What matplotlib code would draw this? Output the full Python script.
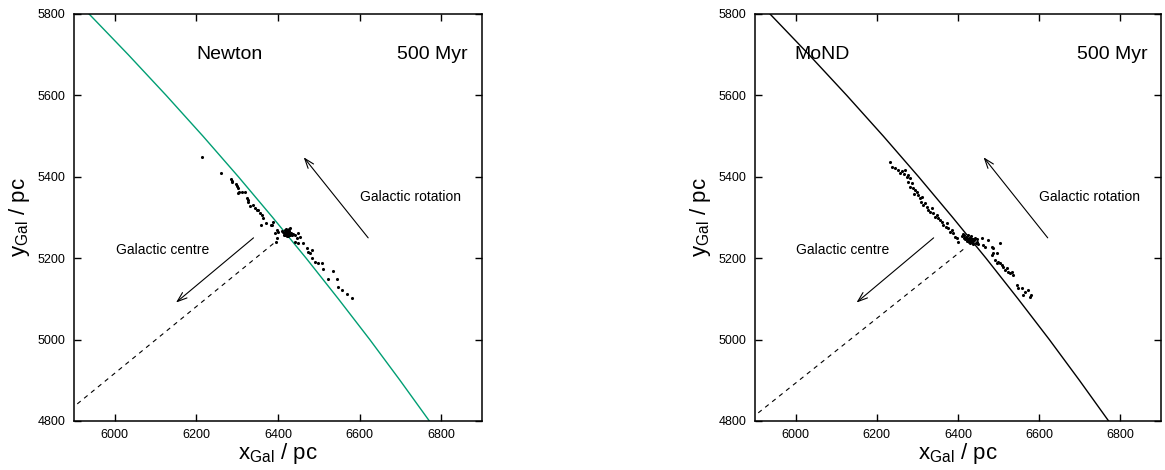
import numpy as np
import matplotlib.pyplot as plt

plt.rcParams['font.family'] = ['Liberation Sans', 'DejaVu Sans']

# orbit of the cluster centre
orbit_y = [5800, 5700, 5600, 5500, 5400, 5300, 5200, 5100, 5000, 4900, 4800]
orbit_x = [5937, 6033, 6126, 6216, 6303, 6387, 6469, 6548, 6625, 6699, 6771]

# Newton, 500 Myr
newton_x = [6214, 6260, 6285, 6288, 6287, 6296, 6300, 6303, 6305, 6301, 6311, 6319,
            6323, 6327, 6326, 6331, 6339, 6344, 6348, 6352, 6356, 6360, 6364,
            6358, 6371, 6382, 6388, 6385, 6397, 6401, 6393, 6397, 6395,
            6410, 6414, 6416, 6418, 6420, 6422, 6424, 6425, 6426, 6428, 6430, 6432,
            6434, 6415, 6419, 6427, 6412, 6421, 6436, 6423, 6429, 6425,
            6442, 6450, 6454, 6446, 6442, 6450, 6462, 6470, 6474, 6483, 6478,
            6483, 6491, 6499, 6507, 6511, 6536, 6523, 6544, 6547, 6557, 6569, 6581]
newton_y = [5448, 5409, 5394, 5388, 5390, 5382, 5377, 5372, 5363, 5359, 5363, 5363,
            5347, 5343, 5339, 5328, 5331, 5323, 5318, 5318, 5310, 5306, 5298,
            5282, 5286, 5282, 5290, 5282, 5269, 5265, 5261, 5249, 5241,
            5268, 5262, 5270, 5258, 5265, 5260, 5268, 5255, 5262, 5266, 5258, 5262,
            5256, 5256, 5272, 5271, 5264, 5254, 5260, 5263, 5274, 5269,
            5257, 5261, 5253, 5249, 5241, 5237, 5237, 5224, 5216, 5220, 5212,
            5200, 5191, 5187, 5187, 5173, 5169, 5148, 5150, 5129, 5122, 5112, 5102]

# MoND, 500 Myr
mond_x = [6232, 6238, 6245, 6251, 6257, 6261, 6269, 6268, 6274, 6278, 6282,
          6278, 6282, 6286, 6290, 6294, 6298, 6292,
          6302, 6306, 6311, 6309, 6315, 6319, 6323,
          6327, 6331, 6335, 6339, 6343, 6348, 6351, 6356,
          6360, 6364, 6372, 6370, 6376, 6380, 6384, 6388, 6393, 6397, 6401,
          6410, 6414, 6416, 6418, 6420, 6422, 6424, 6425, 6426, 6428, 6430, 6430,
          6432, 6433, 6435, 6436, 6438, 6440, 6442, 6444, 6446, 6448, 6427, 6431,
          6429, 6434, 6421, 6437, 6412, 6450,
          6458, 6462, 6466, 6475, 6483, 6487, 6503, 6495, 6483, 6487,
          6491, 6495, 6499, 6503, 6508, 6512, 6516, 6520, 6524, 6528, 6532, 6536,
          6545, 6549, 6557, 6565, 6573, 6561, 6577, 6581]
mond_y = [5436, 5425, 5421, 5417, 5409, 5414, 5417, 5406, 5400, 5404, 5396,
          5388, 5376, 5384, 5372, 5368, 5363, 5357,
          5355, 5347, 5351, 5339, 5331, 5335, 5327,
          5318, 5314, 5323, 5310, 5302, 5306, 5298, 5294,
          5290, 5282, 5286, 5277, 5273, 5265, 5269, 5261, 5253, 5249, 5241,
          5255, 5250, 5258, 5246, 5252, 5242, 5248, 5256, 5240, 5246, 5250, 5238,
          5244, 5254, 5240, 5248, 5236, 5244, 5250, 5238, 5246, 5240, 5244, 5242,
          5248, 5246, 5247, 5243, 5260, 5236,
          5249, 5232, 5228, 5245, 5228, 5224, 5237, 5212, 5208, 5212,
          5196, 5187, 5191, 5187, 5183, 5179, 5171, 5175, 5167, 5163, 5167, 5159,
          5134, 5126, 5126, 5118, 5122, 5110, 5105, 5110]

# direction towards the Galactic centre (dashed)
newton_gc_x = [5908, 6390]
newton_gc_y = [4842, 5237]
mond_gc_x = [5908, 6421]
mond_gc_y = [4820, 5228]

panels = [
    dict(rect=[74/1165, 49/470, 408/1165, 407/470], label='Newton', label_x=6281,
         curve_color='#009e73', px=newton_x, py=newton_y, gx=newton_gc_x, gy=newton_gc_y),
    dict(rect=[755/1165, 49/470, 406/1165, 407/470], label='MoND', label_x=6065,
         curve_color='black', px=mond_x, py=mond_y, gx=mond_gc_x, gy=mond_gc_y),
]

fig = plt.figure(figsize=(11.65, 4.70), dpi=100)

for p in panels:
    ax = fig.add_axes(p['rect'])
    ax.plot(orbit_x, orbit_y, color=p['curve_color'], lw=1.0)
    ax.plot(p['gx'], p['gy'], color='black', lw=0.8, ls=(0, (4, 4)))
    ax.scatter(p['px'], p['py'], s=5, color='black', lw=0, zorder=3)

    arrow = dict(arrowstyle='->,head_length=0.7,head_width=0.25', color='black', lw=0.8,
                 shrinkA=0, shrinkB=0)
    ax.annotate('', xy=(6150, 5091), xytext=(6340, 5250), arrowprops=arrow)
    ax.annotate('', xy=(6463, 5448), xytext=(6621, 5250), arrowprops=arrow)

    ax.text(p['label_x'], 5700, p['label'], fontsize=14, ha='center', va='center')
    ax.text(6779, 5700, '500 Myr', fontsize=14, ha='center', va='center')
    ax.text(6724, 5350, 'Galactic rotation', fontsize=10, ha='center', va='center')
    ax.text(6117, 5220, 'Galactic centre', fontsize=10, ha='center', va='center')

    ax.set_xlim(5900, 6900)
    ax.set_ylim(4800, 5800)
    ax.set_xticks([6000, 6200, 6400, 6600, 6800])
    ax.set_yticks([4800, 5000, 5200, 5400, 5600, 5800])
    ax.tick_params(direction='in', top=True, right=True, length=5, width=1,
                   labelsize=9, pad=6)
    for s in ax.spines.values():
        s.set_linewidth(1.1)
    ax.set_xlabel(r'x$_{\mathregular{Gal}}$ / pc', fontsize=16, labelpad=0)
    ax.set_ylabel(r'y$_{\mathregular{Gal}}$ / pc', fontsize=16, labelpad=4)

fig.savefig('out.png', dpi=100)
